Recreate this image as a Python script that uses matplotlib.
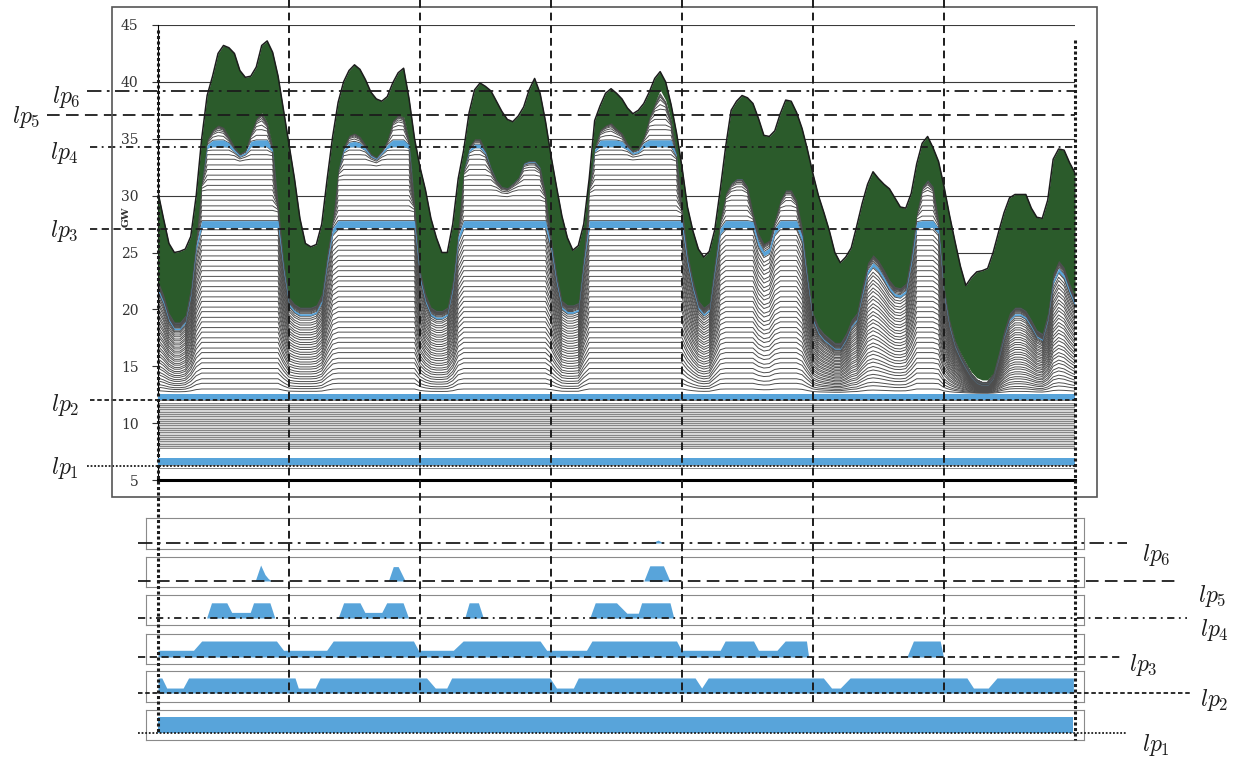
import numpy as np
import matplotlib
matplotlib.use("Agg")
import matplotlib.pyplot as plt
from matplotlib.transforms import blended_transform_factory
from matplotlib.patches import Rectangle

plt.rcParams["mathtext.fontset"] = "cm"

# ---- data (GW, hourly over one week) ----
hours = np.arange(169)

load = np.array([
    30.3, 28.0, 25.8, 25.0, 25.1, 25.3, 26.4, 30.0, 35.0, 38.8,
    40.5, 42.5, 43.2, 43.0, 42.5, 41.0, 40.4, 40.5, 41.3, 43.2,
    43.6, 42.6, 40.5, 37.5, 34.5, 31.5, 28.0, 25.8, 25.5, 25.7,
    27.5, 31.5, 35.2, 38.2, 40.0, 41.0, 41.5, 41.1, 40.2, 39.1,
    38.5, 38.3, 38.7, 39.9, 40.8, 41.2, 38.5, 35.0, 32.5, 30.5,
    28.0, 26.3, 25.0, 25.0, 27.5, 31.5, 34.0, 37.3, 39.3, 39.9,
    39.6, 39.2, 38.3, 37.4, 36.7, 36.5, 37.0, 37.8, 39.3, 40.3,
    39.0, 36.5, 33.5, 30.8, 28.2, 26.3, 25.2, 25.6, 27.5, 31.5,
    36.6, 37.9, 39.0, 39.4, 39.0, 38.5, 37.7, 37.2, 37.5, 38.1,
    39.1, 40.3, 40.9, 40.0, 38.0, 35.5, 32.5, 29.0, 26.9, 25.3,
    24.6, 25.1, 27.0, 30.5, 34.3, 37.5, 38.3, 38.8, 38.6, 38.1,
    36.8, 35.3, 35.2, 35.7, 37.2, 38.4, 38.3, 37.3, 35.9, 34.0,
    31.9, 30.0, 28.5, 26.9, 25.0, 24.1, 24.6, 25.4, 27.3, 29.3,
    31.0, 32.1, 31.5, 31.0, 30.6, 29.8, 29.0, 28.9, 30.2, 32.8,
    34.6, 35.2, 34.2, 33.0, 30.8, 28.3, 26.0, 23.8, 22.1, 22.8,
    23.3, 23.4, 23.6, 25.0, 26.8, 28.5, 29.8, 30.1, 30.1, 30.1,
    28.9, 28.1, 28.0, 29.6, 33.2, 34.1, 34.0, 32.9, 32.0,
])

# top of the dispatched unit stack (bottom edge of the green area)
thermal_top = np.array([
    22.5, 21.3, 19.7, 18.9, 18.9, 19.5, 22.0, 26.4, 31.2, 34.9,
    35.8, 36.2, 36.0, 35.2, 34.3, 33.7, 34.0, 35.5, 36.8, 37.3,
    36.4, 34.3, 29.3, 24.3, 21.1, 20.5, 20.2, 20.2, 20.2, 20.4,
    21.4, 25.0, 27.9, 32.3, 34.3, 35.3, 35.5, 35.2, 34.5, 33.7,
    33.4, 34.0, 34.9, 36.6, 37.1, 36.9, 34.9, 29.3, 23.5, 21.4,
    20.2, 19.9, 19.9, 20.2, 22.6, 27.2, 32.3, 34.3, 35.0, 35.0,
    34.0, 32.5, 31.4, 30.8, 30.7, 31.1, 31.6, 32.9, 33.1, 33.1,
    32.5, 30.2, 26.4, 23.2, 20.8, 20.4, 20.4, 20.6, 25.0, 30.8,
    34.3, 35.8, 36.2, 36.4, 35.9, 35.5, 34.6, 34.0, 34.2, 35.2,
    36.9, 38.1, 39.3, 38.4, 36.6, 33.7, 29.0, 25.0, 22.6, 20.8,
    20.2, 20.6, 24.3, 27.9, 30.2, 31.1, 31.5, 31.5, 30.8, 28.5,
    26.7, 25.8, 26.1, 27.9, 29.6, 30.5, 30.5, 29.6, 27.2, 23.2,
    19.7, 18.5, 17.9, 17.5, 17.1, 17.1, 17.9, 19.1, 19.7, 22.0,
    24.1, 24.8, 24.3, 23.5, 22.6, 22.0, 21.9, 22.3, 25.0, 28.5,
    30.8, 31.4, 30.8, 27.9, 22.0, 19.1, 17.3, 16.2, 15.3, 14.5,
    14.0, 13.8, 13.8, 14.4, 16.2, 18.2, 19.7, 20.2, 20.2, 19.9,
    19.1, 18.2, 17.9, 19.7, 23.2, 24.3, 23.7, 22.3, 21.1,
])

# unit boundaries (cumulative capacity, GW)
base_lines = [6.05, 6.3, 6.9, 7.8, 8.0, 8.2, 8.4, 8.6, 8.8, 9.0, 9.2, 9.4, 9.6,
              9.8, 10.0, 10.2, 10.4, 10.6, 10.8, 11.0, 11.2, 11.4, 11.6, 11.8, 12.0]
unit_lines = [12.6, 13.0, 13.5, 13.9, 14.4, 14.8, 15.3, 15.7, 16.2, 16.6, 17.1,
              17.5, 18.0, 18.4, 18.9, 19.3, 19.8, 20.2, 20.7, 21.1, 21.6, 22.0,
              22.5, 22.9, 23.4, 23.8, 24.3, 24.7, 25.2, 25.6, 26.1, 26.5, 27.0,
              27.2, 27.8, 28.2, 28.7, 29.1, 29.6, 30.0, 30.5, 30.9, 31.4, 31.8,
              32.3, 32.7, 33.2, 33.6, 34.0, 34.3, 34.9, 35.3, 35.8, 36.2, 36.7,
              37.1, 37.6, 38.0, 38.5, 38.9, 39.2, 39.6]

lp_labels = [r"$lp_1$", r"$lp_2$", r"$lp_3$", r"$lp_4$", r"$lp_5$", r"$lp_6$"]
lp_levels = [6.2, 12.0, 27.1, 34.3, 37.1, 39.2]
lp_bands = [(6.3, 6.9), (12.0, 12.6), (27.2, 27.8), (34.3, 34.9)]

# output of the unit at each lp level (fraction of its size)
lp1_h = [0, 167.7]
lp1_v = [1, 1]
lp2_h = [0, 0.7, 1.6, 4.6, 5.6, 25.1, 25.7, 28.8, 29.7, 49.2, 50.8, 52.9, 53.8,
         71.8, 73.0, 76.1, 77.0, 98.4, 99.6, 100.8, 121.9, 123.4, 125.0, 126.8,
         148.2, 149.4, 152.1, 153.7, 167.7]
lp2_v = [0.94, 0.94, .31, .31, 0.94, 0.94, .31, .31, 0.94, 0.94, .31, .31, 0.94,
         0.94, .31, .31, 0.94, 0.94, .31, 0.94, 0.94, .31, .31, 0.94,
         0.94, .31, .31, 0.94, 0.94]
lp3_h = [0, 6.5, 8.0, 21.7, 23.0, 30.9, 32.1, 46.8, 47.7, 54.1, 55.9, 70.0, 71.2,
         78.5, 79.5, 95.0, 95.9, 103.0, 103.9, 109.1, 110.0, 113.4, 114.9, 118.8,
         119.2, 137.2, 138.4, 143.3, 143.9]
lp3_v = [.42, .42, 1, 1, .42, .42, 1, 1, .42, .42, 1, 1, .42, .42, 1, 1, .42, .42,
         1, 1, .42, .42, 1, 1, 0, 0, 1, 1, 0]
lp4_h = [0, 8.9, 9.8, 12.6, 13.5, 16.9, 17.5, 20.5, 21.4, 33.0, 34.0, 37.0, 37.9,
         41.0, 41.9, 44.9, 45.9, 56.2, 57.0, 58.7, 59.6, 79.1, 80.1, 84.0, 85.9,
         88.0, 88.6, 93.8, 94.5, 168]
lp4_v = [0, 0, 0.95, 0.95, .35, .35, 0.95, 0.95, 0, 0, 0.95, 0.95, .35, .35,
         0.95, 0.95, 0, 0, 0.95, 0.95, 0, 0, 0.95, 0.95, .3, .3, 0.95, 0.95, 0, 0]
lp5_h = [0, 17.8, 18.8, 19.6, 20.2, 20.8, 42.2, 43.1, 44.0, 45.3, 89.0, 90.1,
         92.6, 93.8, 168]
lp5_v = [0, 0, 1, .4, .15, 0, 0, .9, .9, 0, 0, .95, .95, 0, 0]
lp6_h = [0, 90.4, 91.6, 92.6, 168]
lp6_v = [0, 0, .18, 0, 0]
panel_data = [(lp1_h, lp1_v), (lp2_h, lp2_v), (lp3_h, lp3_v),
              (lp4_h, lp4_v), (lp5_h, lp5_v), (lp6_h, lp6_v)]

day_hours = [0, 24, 48, 72, 96, 120, 144, 168]

# ---- styles / layout (pixels) ----
W, H = 1238, 757
green = "#2b5b2b"
blue = "#58a4da"
ink = "#1c1c1c"
lp_styles = [(0, (1, 1)), (0, (2.5, 1.5)), (0, (4, 2.5)),
             (0, (4, 2.5, 1, 2.5)), (0, (7, 3.5)), (0, (8, 3, 1.5, 3))]
lp_left_px = [87, 90, 90, 90, 47, 87]
left_label_pos = [(79, 468), (79, 405), (79, 231), (79, 153), (40, 117), (81, 97)]
panel_geom = [(710, 740, 733), (671, 702, 693), (634, 664, 657),
              (595, 625, 618), (557, 587, 581), (518, 549, 543)]
panel_line_end = [1127, 1190, 1123, 1187, 1180, 1127]
right_label_pos = [(1142, 745), (1200, 700), (1129, 665), (1200, 630), (1198, 596), (1142, 555)]


def px_rect(l, t, r, b):
    return [l / W, 1 - b / H, (r - l) / W, (b - t) / H]


fig = plt.figure(figsize=(W / 100, H / 100), dpi=100)

# ---- main stacked chart ----
ax = fig.add_axes(px_rect(158, 25, 1075, 480))
ax.set_xlim(0, 168)
ax.set_ylim(5, 45)

base = 12.6
squeeze = np.clip((thermal_top - base) / (28.5 - base), 0, 1)
soft = 1.2


def stack_level(c):
    # units are squeezed in the night troughs and pushed under the stack top
    y = base + (c - base) * squeeze
    knee = thermal_top - soft
    over = np.maximum(y - knee, 0)
    return np.where(y > knee, thermal_top - soft * np.exp(-over / soft), y)


ax.fill_between(hours, 5, thermal_top, color="white", lw=0, zorder=1)
ax.fill_between(hours, 7.8, 11.8, color="#d6d6d6", lw=0, zorder=1.2)
ax.hlines(base_lines, 0, 168, colors="#777777", lw=0.6, zorder=2)
for c in unit_lines:
    ax.plot(hours, stack_level(c), color="#4e4e4e", lw=0.7, zorder=2)

for lo, hi in lp_bands:
    if lo < base:
        ax.fill_between(hours, lo, hi, color=blue, lw=0, zorder=3)
    else:
        ax.fill_between(hours, stack_level(lo), stack_level(hi), color=blue, lw=0, zorder=3)

ax.fill_between(hours, thermal_top, load, color=green, lw=0, zorder=4)
ax.plot(hours, load, color=ink, lw=1.1, zorder=4.5)

ax.set_yticks(range(5, 50, 5))
ax.grid(axis="y", color="#3a3a3a", lw=0.8)
ax.set_axisbelow(True)
ax.set_xticks([])
ax.tick_params(axis="y", length=4, width=0.8, color="#333", pad=10, labelsize=10,
               labelcolor="#333")
for lab in ax.get_yticklabels():
    lab.set_family("DejaVu Serif")
for s in ["top", "right"]:
    ax.spines[s].set_visible(False)
ax.spines["left"].set_linewidth(0.8)
ax.spines["bottom"].set_linewidth(2.2)

trans = blended_transform_factory(ax.transAxes, ax.transData)
for lvl, ls, xl in zip(lp_levels, lp_styles, lp_left_px):
    ax.plot([(xl - 158) / 917, 1.0], [lvl, lvl], transform=trans, clip_on=False,
            color=ink, lw=1.3, ls=ls, zorder=6)

# ---- small panels with the output of each lp unit ----
for (h, v), (top, bot, line) in zip(panel_data, panel_geom):
    pax = fig.add_axes(px_rect(146, top, 1084, bot))
    pax.set_xlim(-2.2, 169.65)
    pax.set_ylim(-(bot - line) / 16, (line - top) / 16)
    pax.fill_between(h, 0, v, color=blue, lw=0)
    pax.set_xticks([])
    pax.set_yticks([])
    for s in pax.spines.values():
        s.set_color("#8a8a8a")
        s.set_linewidth(0.8)

# ---- overlay: frame, day separators, lp guide lines and labels ----
ov = fig.add_axes([0, 0, 1, 1], zorder=20)
ov.set_xlim(0, W)
ov.set_ylim(H, 0)
ov.axis("off")
ov.patch.set_alpha(0)

ov.add_patch(Rectangle((112, 7), 985, 490, fill=False, ec="#555", lw=1.2))
ov.text(126, 217, "GW", rotation=90, fontsize=7.5, family="DejaVu Serif",
        ha="center", va="center", color="#333", weight="bold")

dtr = blended_transform_factory(ax.transData, ov.transData)
for d in day_hours:
    if d in (0, 168):
        y0, y1 = (30, 734) if d == 0 else (40, 740)
        ov.plot([d, d], [y0, y1], transform=dtr, color=ink, lw=2.2, ls=(0, (1, 0.8)))
    else:
        ov.plot([d, d], [0, 702], transform=dtr, color=ink, lw=1.4, ls=(0, (4, 2.5)))

for (top, bot, line), x_end, ls in zip(panel_geom, panel_line_end, lp_styles):
    ov.plot([138, x_end], [line, line], color=ink, lw=1.3, ls=ls)

for lab, (x, y) in zip(lp_labels, left_label_pos):
    ov.text(x, y, lab, fontsize=17, ha="right", va="center", color=ink)
for lab, (x, y) in zip(lp_labels, right_label_pos):
    ov.text(x, y, lab, fontsize=17, ha="left", va="center", color=ink)

fig.savefig("out.png", dpi=100)
